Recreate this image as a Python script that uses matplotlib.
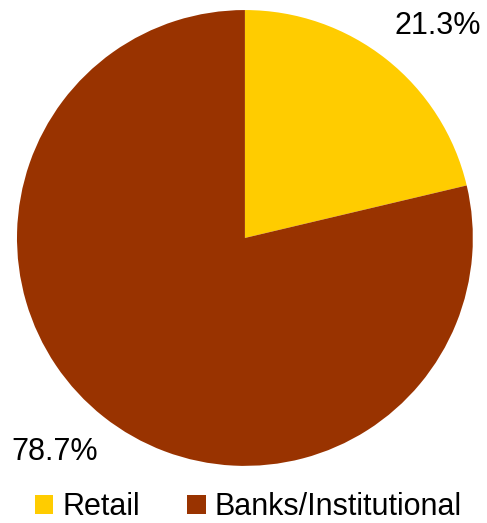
import matplotlib.pyplot as plt
from matplotlib.patches import Patch

# Data
categories = ["Retail", "Banks/Institutional"]
shares = [21.3, 78.7]
colors = ["#FFCC00", "#993300"]

plt.rcParams['font.family'] = ['Liberation Sans', 'DejaVu Sans']

fig = plt.figure(figsize=(4.87, 5.23), dpi=100)
ax = fig.add_axes([0.0349, 0.109, 0.936, 0.872])

wedges, _ = ax.pie(shares, colors=colors, startangle=90, counterclock=False,
                   radius=1.0, wedgeprops=dict(linewidth=0))
ax.set_xlim(-1, 1)
ax.set_ylim(-1, 1)
ax.set_aspect('equal')

# percentage labels placed outside the pie
label_pos = [(0.846, 0.93), (-0.833, -0.939)]
for val, (x, y) in zip(shares, label_pos):
    ax.text(x, y, "%.1f%%" % val, ha='center', va='center', fontsize=22,
            clip_on=False)

handles = [Patch(facecolor=c, edgecolor='none') for c in colors]
fig.legend(handles, categories, loc='center', bbox_to_anchor=(0.51, 0.03),
           ncol=2, frameon=False, fontsize=22, handlelength=0.6,
           handleheight=0.6, handletextpad=0.3, columnspacing=1.55,
           borderpad=0, borderaxespad=0)

fig.savefig("out.png", dpi=100)
